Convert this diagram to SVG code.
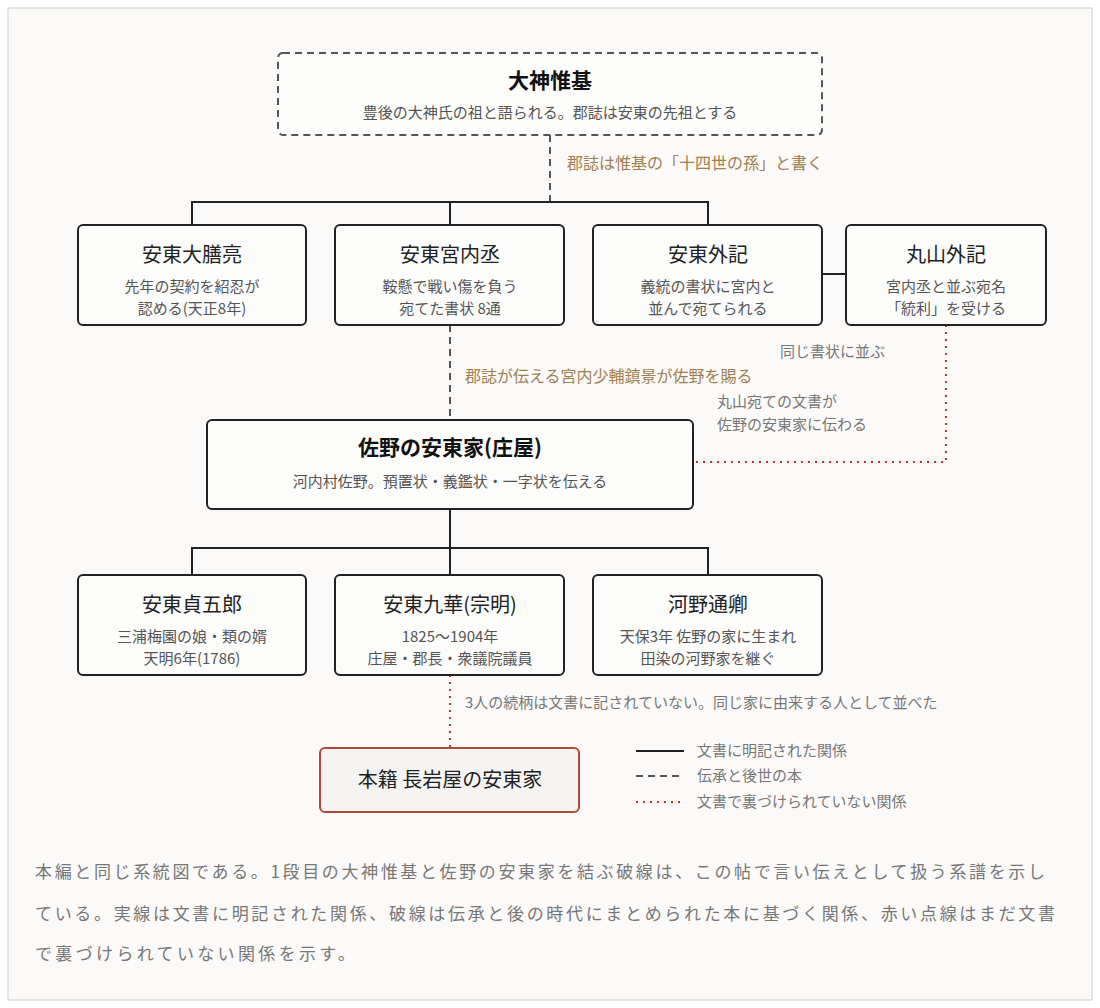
<svg xmlns="http://www.w3.org/2000/svg" width="1100" height="1008" viewBox="0 0 1100 1008">
<style>
text{font-family:"Noto Sans CJK JP","Noto Sans",sans-serif}
.box{fill:#fcfcfb;stroke:#222;stroke-width:2}
.t{font-size:20px;fill:#222;text-anchor:middle}
.tb{font-size:21px;fill:#111;text-anchor:middle;font-weight:bold}
.s{font-size:15px;fill:#555;text-anchor:middle}
.brn{font-size:16px;fill:#a0804f}
.g{font-size:15px;fill:#777}
.solid{stroke:#222;stroke-width:2;fill:none}
.dash{stroke:#555;stroke-width:2;stroke-dasharray:7 5;fill:none}
.dot{stroke:#b5362a;stroke-width:2;stroke-dasharray:2 5;fill:none}
.p{font-size:17px;fill:#777}
</style>
<rect x="8" y="8" width="1084" height="992" fill="#fbfaf8" stroke="#ccc"/>
<g id="connectors">
<path class="dash" d="M550 135V202"/>
<path class="solid" d="M192 225V202H708V225M450 202V225M822 274H846"/>
<path class="dash" d="M450 325V420"/>
<path class="dot" d="M946 325V462H693"/>
<path class="solid" d="M450 509V548M192 575V548H708V575M450 548V575"/>
<path class="dot" d="M450 675V748"/>
</g>
<g id="n0"><rect x="278" y="53" width="544" height="82" rx="5" fill="#fcfcfb" stroke="#555" stroke-width="2" stroke-dasharray="7 5"/>
<text class="tb" x="550" y="88">大神惟基</text><text class="s" x="550" y="118">豊後の大神氏の祖と語られる。郡誌は安東の先祖とする</text></g>
<text class="brn" x="567" y="169">郡誌は惟基の「十四世の孫」と書く</text>
<g id="n1"><rect class="box" x="78" y="225" width="228" height="100" rx="5"/><text class="t" x="192" y="262">安東大膳亮</text><text class="s" x="192" y="292">先年の契約を紹忍が</text><text class="s" x="192" y="314">認める(天正8年)</text></g>
<g id="n2"><rect class="box" x="335" y="225" width="229" height="100" rx="5"/><text class="t" x="450" y="262">安東宮内丞</text><text class="s" x="450" y="292">鞍懸で戦い傷を負う</text><text class="s" x="450" y="314">宛てた書状 8通</text></g>
<g id="n3"><rect class="box" x="593" y="225" width="229" height="100" rx="5"/><text class="t" x="708" y="262">安東外記</text><text class="s" x="708" y="292">義統の書状に宮内と</text><text class="s" x="708" y="314">並んで宛てられる</text></g>
<g id="n4"><rect class="box" x="846" y="225" width="200" height="100" rx="5"/><text class="t" x="946" y="262">丸山外記</text><text class="s" x="946" y="292">宮内丞と並ぶ宛名</text><text class="s" x="946" y="314">「統利」を受ける</text></g>
<text class="g" x="780" y="357">同じ書状に並ぶ</text>
<text class="brn" x="465" y="382">郡誌が伝える宮内少輔鎮景が佐野を賜る</text>
<text class="g" x="717" y="407">丸山宛ての文書が</text>
<text class="g" x="717" y="430">佐野の安東家に伝わる</text>
<g id="n5"><rect class="box" x="207" y="420" width="486" height="89" rx="5"/><text class="tb" x="450" y="455">佐野の安東家(庄屋)</text><text class="s" x="450" y="487">河内村佐野。預置状・義鑑状・一字状を伝える</text></g>
<g id="n6"><rect class="box" x="78" y="575" width="228" height="100" rx="5"/><text class="t" x="192" y="612">安東貞五郎</text><text class="s" x="192" y="642">三浦梅園の娘・類の婿</text><text class="s" x="192" y="664">天明6年(1786)</text></g>
<g id="n7"><rect class="box" x="335" y="575" width="229" height="100" rx="5"/><text class="t" x="450" y="612">安東九華(宗明)</text><text class="s" x="450" y="642">1825〜1904年</text><text class="s" x="450" y="664">庄屋・郡長・衆議院議員</text></g>
<g id="n8"><rect class="box" x="593" y="575" width="229" height="100" rx="5"/><text class="t" x="708" y="612">河野通卿</text><text class="s" x="708" y="642">天保3年 佐野の家に生まれ</text><text class="s" x="708" y="664">田染の河野家を継ぐ</text></g>
<text class="g" x="465" y="708">3人の続柄は文書に記されていない。同じ家に由来する人として並べた</text>
<g id="n9"><rect x="320" y="748" width="259" height="64" rx="5" fill="#f5f4f2" stroke="#b04a3a" stroke-width="2"/><text class="t" x="450" y="787">本籍 長岩屋の安東家</text></g>
<g id="legend">
<path class="solid" d="M636 751H684"/><path class="dash" d="M636 776H684" stroke-dasharray="6 5"/><path class="dot" d="M636 802H684"/>
<text class="g" x="697" y="756">文書に明記された関係</text><text class="g" x="697" y="781">伝承と後世の本</text><text class="g" x="697" y="807">文書で裏づけられていない関係</text>
</g>
<text class="p" x="35" y="878" textLength="1010" lengthAdjust="spacing">本編と同じ系統図である。1段目の大神惟基と佐野の安東家を結ぶ破線は、この帖で言い伝えとして扱う系譜を示し</text>
<text class="p" x="35" y="920" textLength="1020" lengthAdjust="spacing">ている。実線は文書に明記された関係、破線は伝承と後の時代にまとめられた本に基づく関係、赤い点線はまだ文書</text>
<text class="p" x="35" y="960" textLength="320" lengthAdjust="spacing">で裏づけられていない関係を示す。</text>
</svg>
